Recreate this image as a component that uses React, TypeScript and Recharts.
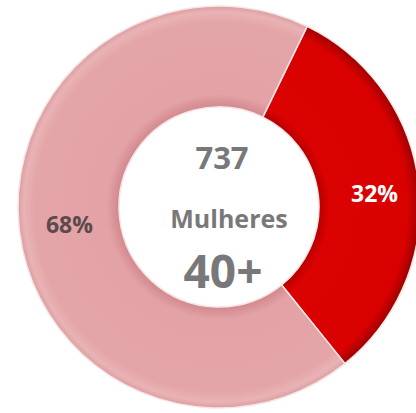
import { PieChart, Pie, Cell, Label } from 'recharts';

const sliceNames = ['40+ (sim)', 'Outras'];
const sliceValues = [32, 68];
const sliceLabels = ['32%', '68%'];
const centerLines = ['737', 'Mulheres', '40+'];

const data = sliceNames.map((name, i) => ({ name, value: sliceValues[i], label: sliceLabels[i] }));

const CX = 219;
const CY = 207;
const RAD = Math.PI / 180;
const FONT = '"Open Sans", "Liberation Sans", sans-serif';

function SliceLabel(props: any) {
    const { cx, cy, midAngle, innerRadius, outerRadius, index } = props;
    const r = (innerRadius + outerRadius) / 2;
    const x = cx + r * Math.cos(-midAngle * RAD);
    const y = cy + r * Math.sin(-midAngle * RAD);
    return (
        <text
            x={index === 0 ? x + 6 : x}
            y={index === 0 ? y + 3 : y}
            textAnchor="middle"
            dominantBaseline="central"
            fontFamily={FONT}
            fontWeight={700}
            fontSize={23}
            fill={index === 0 ? '#ffffff' : '#5a4a4c'}
        >
            {data[index].label}
        </text>
    );
}

function CenterText() {
    return (
        <g fontFamily={FONT} fontWeight={700} fill="#78787a" textAnchor="middle">
            <text x={CX + 3} y={CY - 50} fontSize={31} dominantBaseline="central">{centerLines[0]}</text>
            <text x={CX + 10} y={CY + 11} fontSize={25} dominantBaseline="central">{centerLines[1]}</text>
            <text x={CX + 4} y={CY + 63} fontSize={46} dominantBaseline="central">{centerLines[2]}</text>
        </g>
    );
}

export default function App() {
    return (
        <div style={{ position: 'absolute', left: 0, top: 0, width: 416, height: 413, background: '#fff' }}>
            <PieChart width={416} height={413} margin={{ top: 0, right: 0, bottom: 0, left: 0 }}>
                <defs>
                    <radialGradient id="gPink" gradientUnits="userSpaceOnUse" cx={CX} cy={CY} r={201}>
                        <stop offset="0.5" stopColor="#d3898e" />
                        <stop offset="0.56" stopColor="#e2a2a6" />
                        <stop offset="0.92" stopColor="#e4a5a8" />
                        <stop offset="0.97" stopColor="#e9b3b5" />
                        <stop offset="1" stopColor="#dc9da0" />
                    </radialGradient>
                    <radialGradient id="gRed" gradientUnits="userSpaceOnUse" cx={CX} cy={CY} r={201}>
                        <stop offset="0.5" stopColor="#b80000" />
                        <stop offset="0.55" stopColor="#db0202" />
                        <stop offset="0.94" stopColor="#d90000" />
                        <stop offset="1" stopColor="#9e0000" />
                    </radialGradient>
                </defs>
                <Pie
                    data={data}
                    dataKey="value"
                    nameKey="name"
                    cx={CX}
                    cy={CY}
                    innerRadius={100}
                    outerRadius={201}
                    startAngle={64}
                    endAngle={-296}
                    stroke="#f4e6e6"
                    strokeWidth={1.5}
                    label={SliceLabel}
                    labelLine={false}
                    isAnimationActive={false}
                >
                    <Cell fill="url(#gRed)" />
                    <Cell fill="url(#gPink)" />
                    <Label position="center" content={CenterText} />
                </Pie>
            </PieChart>
        </div>
    );
}
